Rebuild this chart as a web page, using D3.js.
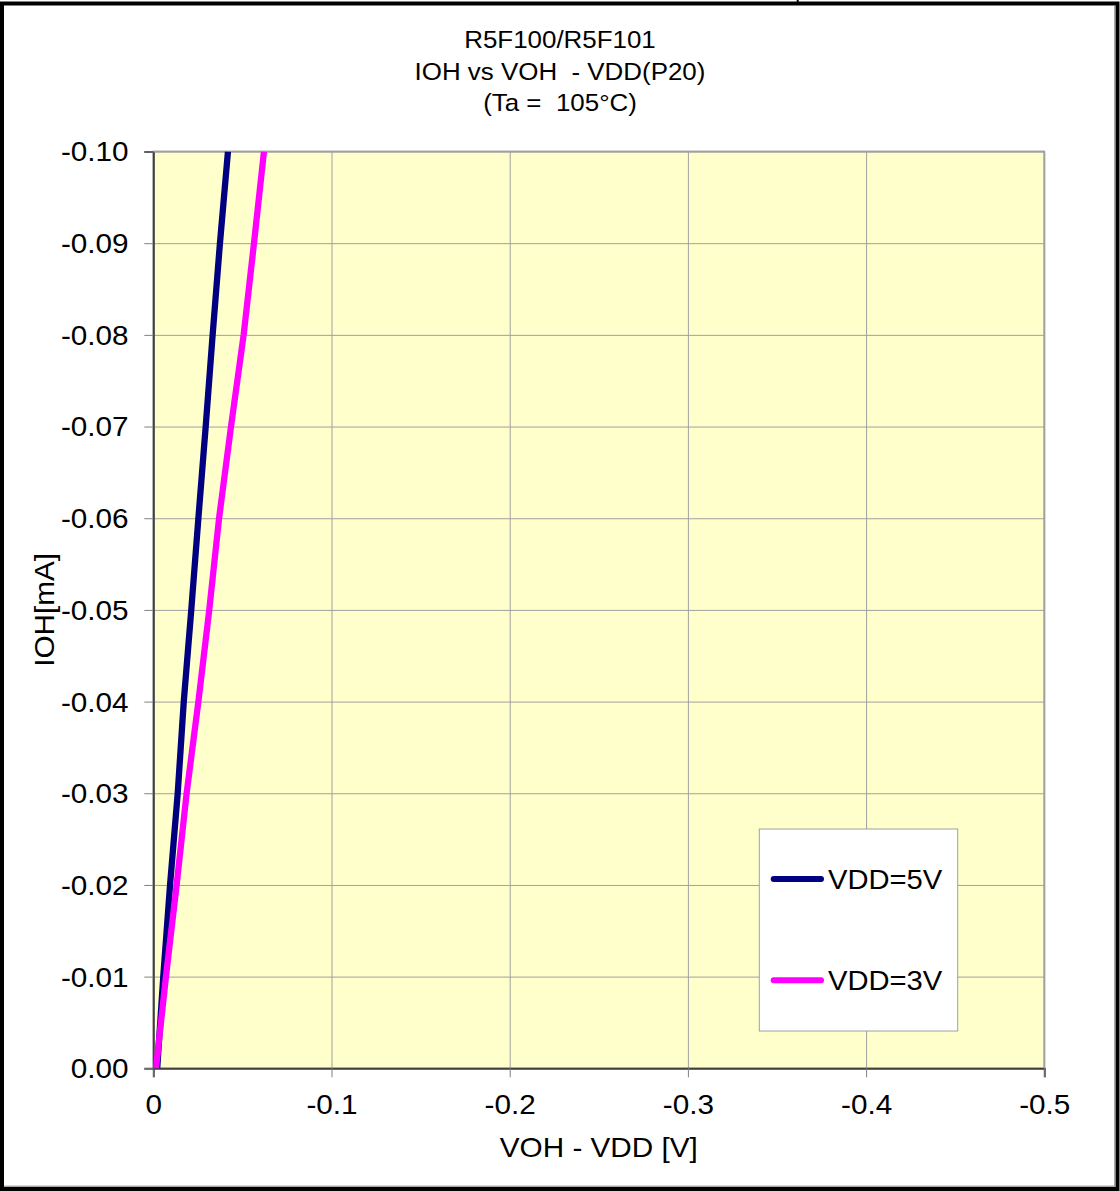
<!DOCTYPE html>
<html>
<head>
<meta charset="utf-8">
<script src="https://cdn.jsdelivr.net/npm/d3@7"></script>
<style>
  html, body { margin: 0; padding: 0; background: #ffffff; }
  svg { display: block; font-family: "Liberation Sans", Arial, sans-serif; }
  text { white-space: pre; }
</style>
</head>
<body>
<svg id="chart" width="1120" height="1191"></svg>
<script>
// ---- data ----
const titleLines = ["R5F100/R5F101", "IOH vs VOH  - VDD(P20)", "(Ta =  105°C)"];
const xAxisTitle = "VOH - VDD [V]";
const yAxisTitle = "IOH[mA]";
const xTicks = [0, -0.1, -0.2, -0.3, -0.4, -0.5];
const xTickLabels = ["0", "-0.1", "-0.2", "-0.3", "-0.4", "-0.5"];
const yTicks = [0, -0.01, -0.02, -0.03, -0.04, -0.05, -0.06, -0.07, -0.08, -0.09, -0.10];
const yTickLabels = ["0.00", "-0.01", "-0.02", "-0.03", "-0.04", "-0.05", "-0.06", "-0.07", "-0.08", "-0.09", "-0.10"];
const seriesNames = ["VDD=5V", "VDD=3V"];
const ioh = [0, -0.01, -0.02, -0.03, -0.04, -0.05, -0.06, -0.07, -0.08, -0.09, -0.10];
const voh5V = [-0.0022, -0.0056, -0.0094, -0.0137, -0.0171, -0.0213, -0.0253, -0.0294, -0.0333, -0.0374, -0.0419];
const voh3V = [-0.0015, -0.0071, -0.0131, -0.0187, -0.0253, -0.0314, -0.0369, -0.0436, -0.0507, -0.0565, -0.0621];
const seriesColors = ["#000080", "#FF00FF"];

// ---- layout ----
const svg = d3.select("#chart");
const plot = { left: 153.3, right: 1044.3, top: 151.5, bottom: 1068.3 };
const SX = 1.1; // horizontal text stretch

const x = d3.scaleLinear().domain([0, -0.5]).range([plot.left, plot.right]);
const y = d3.scaleLinear().domain([0, -0.1]).range([plot.bottom, plot.top]);

// outer frame
svg.append("rect").attr("x", 2).attr("y", 3.5).attr("width", 1115.5).attr("height", 1185.5)
  .attr("fill", "#fff").attr("stroke", "#000").attr("stroke-width", 4);
svg.append("line").attr("x1", 4).attr("x2", 1115).attr("y1", 1186.2).attr("y2", 1186.2)
  .attr("stroke", "#808080").attr("stroke-width", 1);
svg.append("line").attr("x1", 1114.8).attr("x2", 1114.8).attr("y1", 5).attr("y2", 1186.5)
  .attr("stroke", "#808080").attr("stroke-width", 1);
svg.append("line").attr("x1", 797.7).attr("x2", 797.7).attr("y1", 0).attr("y2", 3)
  .attr("stroke", "#000").attr("stroke-width", 2);

// title
const titleBaselines = [48.3, 79.5, 110.5];
titleLines.forEach((t, i) => {
  svg.append("text")
    .attr("transform", `translate(560,${titleBaselines[i]}) scale(1.08,1)`)
    .attr("text-anchor", "middle").attr("font-size", 24).attr("fill", "#000")
    .text(t);
});

// plot background
svg.append("rect").attr("x", plot.left).attr("y", plot.top)
  .attr("width", plot.right - plot.left).attr("height", plot.bottom - plot.top)
  .attr("fill", "#FFFFCC").attr("stroke", "#a0a0a0").attr("stroke-width", 1.5);

// gridlines
const gx = svg.append("g").attr("transform", `translate(0,${plot.bottom})`)
  .call(d3.axisBottom(x).tickValues(xTicks).tickSize(-(plot.bottom - plot.top)).tickFormat(""));
gx.select(".domain").remove();
gx.selectAll("line").attr("stroke", "#a0a0a0").attr("stroke-width", 1);

const gy = svg.append("g").attr("transform", `translate(${plot.left},0)`)
  .call(d3.axisLeft(y).tickValues(yTicks).tickSize(-(plot.right - plot.left)).tickFormat(""));
gy.select(".domain").remove();
gy.selectAll("line").attr("stroke", "#a0a0a0").attr("stroke-width", 1);

// axes with ticks and labels
const xAxis = svg.append("g").attr("transform", `translate(0,${plot.bottom})`)
  .call(d3.axisBottom(x).tickValues(xTicks).tickSize(9).tickPadding(10)
    .tickFormat((d, i) => xTickLabels[i]));
xAxis.select(".domain").attr("stroke", "#404040").attr("stroke-width", 2);
xAxis.selectAll(".tick line").attr("stroke", "#808080").attr("stroke-width", 1);
xAxis.selectAll(".tick text")
  .attr("font-size", 27).attr("font-family", "Liberation Sans, Arial, sans-serif")
  .attr("fill", "#000").attr("y", 0).attr("dy", 0)
  .attr("transform", `translate(0,45.3) scale(${SX},1)`);

const yAxis = svg.append("g").attr("transform", `translate(${plot.left},0)`)
  .call(d3.axisLeft(y).tickValues(yTicks).tickSize(9).tickPadding(10)
    .tickFormat((d, i) => yTickLabels[i]));
yAxis.select(".domain").attr("stroke", "#404040").attr("stroke-width", 2);
yAxis.selectAll(".tick line").attr("stroke", "#808080").attr("stroke-width", 1);
yAxis.selectAll(".tick text")
  .attr("font-size", 27).attr("font-family", "Liberation Sans, Arial, sans-serif")
  .attr("fill", "#000").attr("x", 0).attr("dy", "0.35em")
  .attr("transform", `translate(-24.7,0) scale(${SX},1)`);

// top/right border re-stroke (grey)
svg.append("path")
  .attr("d", `M${plot.left},${plot.top}H${plot.right}V${plot.bottom}`)
  .attr("fill", "none").attr("stroke", "#a0a0a0").attr("stroke-width", 1.5);

// axis titles
svg.append("text")
  .attr("transform", `translate(${(plot.left + plot.right) / 2},1156.5) scale(${SX},1)`)
  .attr("text-anchor", "middle").attr("font-size", 27).attr("fill", "#000")
  .text(xAxisTitle);
svg.append("text")
  .attr("transform", `translate(53.5,${(plot.top + plot.bottom) / 2}) rotate(-90) scale(${SX},1)`)
  .attr("text-anchor", "middle").attr("font-size", 27).attr("fill", "#000")
  .text(yAxisTitle);

// series
svg.append("clipPath").attr("id", "plotclip")
  .append("rect").attr("x", plot.left).attr("y", plot.top)
  .attr("width", plot.right - plot.left).attr("height", plot.bottom - plot.top);

const line = d3.line().x(d => x(d[0])).y(d => y(d[1]));
const series = [voh5V, voh3V];
const gLines = svg.append("g").attr("clip-path", "url(#plotclip)");
[0, 1].forEach(k => {
  gLines.append("path")
    .datum(series[k].map((v, i) => [v, ioh[i]]))
    .attr("d", line)
    .attr("fill", "none")
    .attr("stroke", seriesColors[k])
    .attr("stroke-width", 6.3)
    .attr("stroke-linejoin", "round");
});

// legend
const legend = svg.append("g");
legend.append("rect").attr("x", 759.3).attr("y", 829).attr("width", 198.4).attr("height", 202)
  .attr("fill", "#fff").attr("stroke", "#a0a0a0").attr("stroke-width", 1);
const legendRows = [879, 980.3];
seriesNames.forEach((name, i) => {
  legend.append("line")
    .attr("x1", 773.7).attr("x2", 821).attr("y1", legendRows[i]).attr("y2", legendRows[i])
    .attr("stroke", seriesColors[i]).attr("stroke-width", 6).attr("stroke-linecap", "round");
  legend.append("text")
    .attr("transform", `translate(828,${legendRows[i] + 10}) scale(1.08,1)`)
    .attr("font-size", 27).attr("fill", "#000")
    .text(name);
});
</script>
</body>
</html>
